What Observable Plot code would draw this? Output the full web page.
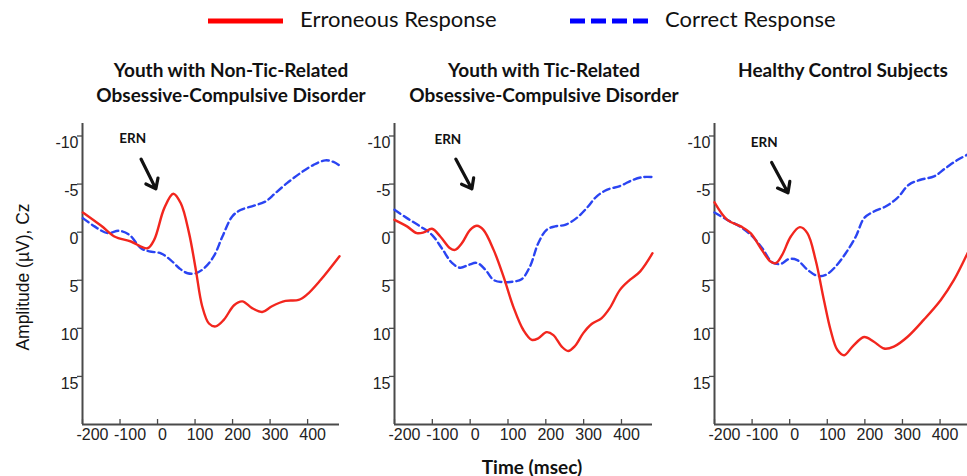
<!DOCTYPE html>
<html>
<head>
<meta charset="utf-8">
<script src="https://cdn.jsdelivr.net/npm/d3@7"></script>
<script src="https://cdn.jsdelivr.net/npm/@observablehq/plot@0.6"></script>
<style>
  html, body { margin: 0; padding: 0; background: #fff; }
  #root { position: relative; width: 967px; height: 476px; overflow: hidden; background: #fff; }
  .abs { position: absolute; }
  .title { font-family: Lato, "Open Sans", sans-serif; font-weight: 700; font-size: 19px; line-height: 25px; text-align: center; color: #111; width: 400px; }
  .legtext { font-family: Lato, "Open Sans", sans-serif; font-size: 22px; color: #111; line-height: 24px; white-space: nowrap; }
</style>
</head>
<body>
<div id="root"></div>
<script>
// ---------- data ----------
const seriesNames = ["Erroneous Response", "Correct Response"];
const panelTitles = [
  ["Youth with Non-Tic-Related", "Obsessive-Compulsive Disorder"],
  ["Youth with Tic-Related", "Obsessive-Compulsive Disorder"],
  ["Healthy Control Subjects"]
];
const xTicks = [-200, -100, 0, 100, 200, 300, 400];
const yTicks = [-10, -5, 0, 5, 10, 15];
const xDomains = [[-200, 485], [-200, 482], [-200, 473]];
const yDomain = [-11.3, 20];

// Panel 1: non-tic-related OCD
const p1ErrT = [-199,-150,-115,-71,-27,-9,18,42,62,84,102,119,137,155,177,204,226,252,279,305,341,376,398,434,485];
const p1ErrV = [-2.05,-0.66,0.45,0.97,1.67,0.8,-2.5,-4.0,-3.0,0.1,3.9,7.7,9.5,9.8,9.1,7.6,7.2,7.9,8.3,7.7,7.15,7.05,6.5,5.0,2.5];
const p1CorT = [-199,-168,-133,-102,-75,-44,-22,9,35,58,80,102,124,150,173,199,221,257,288,314,345,381,416,447,469,485];
const p1CorV = [-1.46,-0.6,0.1,-0.14,0.28,1.67,2.0,2.2,2.9,3.75,4.27,4.27,3.75,2.5,0.45,-1.63,-2.3,-2.75,-3.2,-4.06,-5.1,-6.15,-7.0,-7.47,-7.3,-6.94];

// Panel 2: tic-related OCD
const p2ErrT = [-200,-167,-141,-123,-101,-79,-53,-40,-22,0,18,35,62,88,114,141,163,180,202,220,242,259,277,299,321,347,369,396,422,449,482];
const p2ErrV = [-1.28,-0.6,0.1,0.03,-0.35,0.45,1.67,1.84,1.15,-0.24,-0.66,-0.24,1.84,4.6,7.74,10.2,11.2,11.04,10.4,10.7,11.9,12.36,11.84,10.5,9.55,8.96,7.9,6.0,4.97,4.1,2.19];
const p2CorT = [-200,-167,-132,-101,-75,-48,-26,-4,18,40,62,88,114,136,158,180,202,224,251,281,308,334,361,396,431,457,482];
const p2CorV = [-2.33,-1.46,-0.6,0.28,1.67,3.2,3.7,3.4,3.2,3.9,4.97,5.2,5.14,4.9,3.58,1.15,-0.24,-0.6,-0.76,-1.46,-2.5,-3.7,-4.4,-4.8,-5.45,-5.73,-5.73];

// Panel 3: healthy controls
const p3ErrT = [-200,-166,-130,-104,-77,-51,-37,-20,3,27,47,69,91,109,127,145,167,198,224,251,277,313,357,402,437,473];
const p3ErrV = [-3.1,-1.28,-0.6,0.1,1.67,3.06,3.23,2.36,0.45,-0.52,0.1,2.9,7.05,10.2,12.26,12.8,11.9,10.9,11.4,12.1,11.9,10.9,9.1,7.05,4.97,2.19];
const p3CorT = [-200,-166,-130,-99,-73,-46,-24,-2,20,47,74,96,122,149,176,198,224,255,286,317,348,384,415,446,473];
const p3CorV = [-2.05,-1.28,-0.52,0.45,1.67,3.16,3.3,2.8,2.9,3.9,4.55,4.44,3.58,2.19,0.45,-1.46,-2.15,-2.67,-3.54,-4.93,-5.45,-5.8,-6.67,-7.5,-8.06];

// ERN annotations (label position and arrow tail/head in data units)
const ernLabelT = [-66, -59, -68];
const ernLabelV = [-9.7, -9.6, -9.3];
const ernArrowT1 = [-44, -38, -48];
const ernArrowV1 = [-7.6, -7.6, -7.25];
const ernArrowT2 = [-4.5, 4.5, -4.5];
const ernArrowV2 = [-4.5, -4.5, -4.1];

const errT = [p1ErrT, p2ErrT, p3ErrT], errV = [p1ErrV, p2ErrV, p3ErrV];
const corT = [p1CorT, p2CorT, p3CorT], corV = [p1CorV, p2CorV, p3CorV];

// ---------- layout ----------
const RED = "#f2261e", BLUE = "#2a44f2", AXIS = "#4a4a4a";
const TICKFONT = "Liberation Sans, Arial, sans-serif";
const root = document.getElementById("root");

function addDiv(cls, style, html) {
  const d = document.createElement("div");
  d.className = "abs " + cls;
  Object.assign(d.style, style);
  d.innerHTML = html;
  root.appendChild(d);
  return d;
}

// legend
addDiv("", {left: "206px", top: "14px"},
  `<svg width="80" height="14"><line x1="2" y1="7" x2="77" y2="7" stroke="#ff0000" stroke-width="5"/></svg>`);
addDiv("legtext", {left: "300px", top: "7px"}, seriesNames[0]);
addDiv("", {left: "568px", top: "14px"},
  `<svg width="80" height="14"><line x1="2" y1="7" x2="80" y2="7" stroke="#0000ff" stroke-width="5" stroke-dasharray="15,6"/></svg>`);
addDiv("legtext", {left: "665px", top: "7px"}, seriesNames[1]);

// titles
const titleCenters = [231, 544, 843];
panelTitles.forEach((lines, i) => {
  addDiv("title", {left: (titleCenters[i] - 200) + "px", top: "57px"}, lines.join("<br>"));
});

// panels
const panelBoxes = [
  {left: 0, width: 345, marginLeft: 82, marginRight: 6},
  {left: 340, width: 320, marginLeft: 54, marginRight: 8},
  {left: 660, width: 307, marginLeft: 54, marginRight: 0}
];

panelBoxes.forEach((b, i) => {
  const err = errT[i].map((t, j) => ({t, v: errV[i][j]}));
  const cor = corT[i].map((t, j) => ({t, v: corV[i][j]}));
  const ern = [{t: ernLabelT[i], v: ernLabelV[i], t1: ernArrowT1[i], v1: ernArrowV1[i], t2: ernArrowT2[i], v2: ernArrowV2[i]}];
  const svg = Plot.plot({
    width: b.width,
    height: 366,
    marginTop: 13,
    marginBottom: 52,
    marginLeft: b.marginLeft,
    marginRight: b.marginRight,
    style: {background: "transparent", overflow: "visible"},
    x: {domain: xDomains[i], axis: null},
    y: {domain: yDomain, reverse: true, axis: null},
    marks: [
      // axis ticks
      Plot.axisY({ticks: yTicks, tickSize: 5, fill: "none", stroke: AXIS, strokeWidth: 1.3}),
      Plot.axisY({ticks: yTicks, tickSize: 0, tickPadding: 4, dy: 7, tickFormat: d => String(d),
        fill: "#222", fontSize: 16, fontFamily: TICKFONT, label: null}),
      Plot.axisX({ticks: xTicks, tickSize: 5, fill: "none", dy: -5, stroke: AXIS, strokeWidth: 1.3}),
      Plot.axisX({ticks: xTicks.filter(d => d < 0), tickSize: 0, tickPadding: 4, dx: 10, tickFormat: d => String(d),
        fill: "#222", fontSize: 16, fontFamily: TICKFONT, label: null}),
      Plot.axisX({ticks: xTicks.filter(d => d >= 0), tickSize: 0, tickPadding: 4, dx: 5, tickFormat: d => String(d),
        fill: "#222", fontSize: 16, fontFamily: TICKFONT, label: null}),
      // axis lines
      Plot.ruleX([xDomains[i][0]], {stroke: AXIS, strokeWidth: 2}),
      Plot.ruleY([yDomain[1]], {stroke: AXIS, strokeWidth: 2}),
      // data
      Plot.line(cor, {x: "t", y: "v", stroke: BLUE, strokeWidth: 2.4, strokeDasharray: "7,4", curve: "catmull-rom"}),
      Plot.line(err, {x: "t", y: "v", stroke: RED, strokeWidth: 2.4, curve: "catmull-rom"}),
      // ERN annotation
      Plot.text(ern, {x: "t", y: "v", text: () => "ERN", fontWeight: "bold", fontSize: 13.5,
        fontFamily: "Lato, Open Sans, sans-serif", fill: "#111"}),
      Plot.arrow(ern, {x1: "t1", y1: "v1", x2: "t2", y2: "v2", stroke: "#111", strokeWidth: 3.2,
        headLength: 11, headAngle: 75})
    ]
  });
  const wrap = addDiv("", {left: b.left + "px", top: "110px"}, "");
  wrap.appendChild(svg);
});

// axis titles
addDiv("", {left: "23px", top: "277px", transform: "translate(-50%,-50%) rotate(-90deg)",
  fontFamily: TICKFONT, fontSize: "17.5px", color: "#111", whiteSpace: "nowrap"},
  "Amplitude (\u00b5V), Cz");
addDiv("", {left: "532px", top: "466px", transform: "translate(-50%,-50%)",
  fontFamily: "Lato, Open Sans, sans-serif", fontWeight: "700", fontSize: "19px", color: "#111", whiteSpace: "nowrap"},
  "Time (msec)");
</script>
</body>
</html>
